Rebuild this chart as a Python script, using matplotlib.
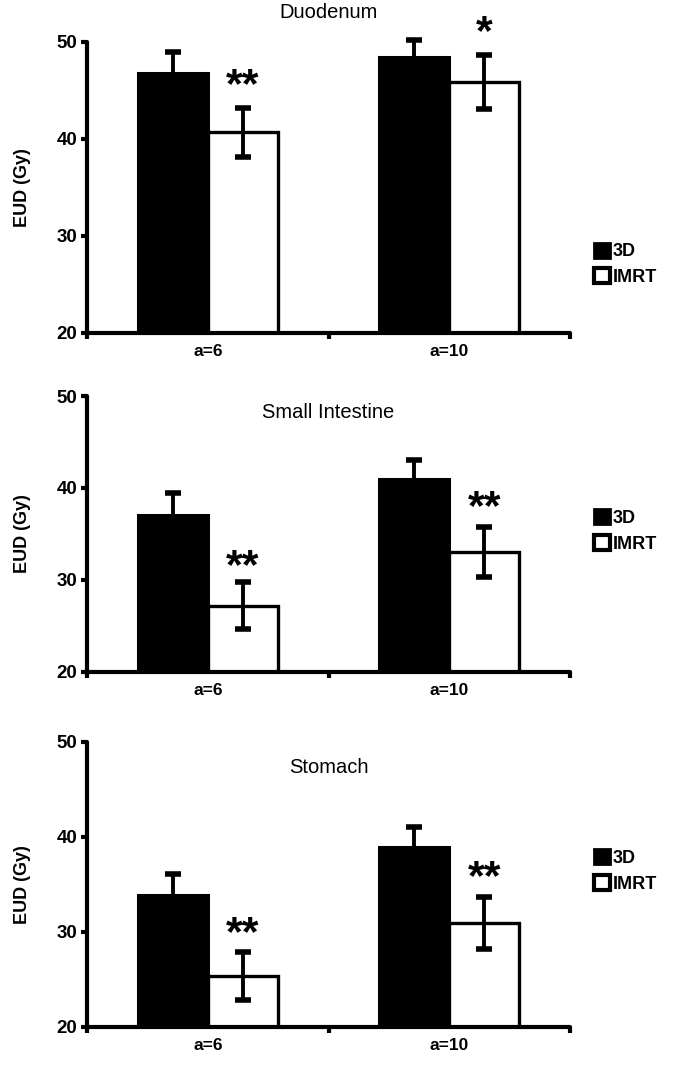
import numpy as np
from matplotlib import pyplot as plt
from matplotlib.patches import Patch

# EUD values
groups = ['a=6', 'a=10']
organs = ['Duodenum', 'Small Intestine', 'Stomach']

eud_3d = [[46.8, 48.4], [37.0, 41.0], [33.9, 38.9]]
err_3d = [[2.1, 1.8], [2.4, 2.0], [2.2, 2.1]]
eud_imrt = [[40.65, 45.85], [27.2, 33.05], [25.35, 30.95]]
err_imrt = [[2.55, 2.75], [2.6, 2.75], [2.55, 2.75]]
stars = [['**', '*'], ['**', '**'], ['**', '**']]
star_y = [[45.4, 50.9], [31.4, 37.8], [29.7, 35.6]]

yticks = [20, 30, 40, 50]

# panel placement (figure fractions) and where the title / legend sit
panel_pos = [[0.1285, 0.6879, 0.7135, 0.2730],
             [0.1285, 0.3699, 0.7135, 0.2586],
             [0.1285, 0.0369, 0.7135, 0.2673]]
title_y = [1.10, 0.942, 0.911]
legend_y = [0.235, 0.51, 0.546]

plt.rcParams['font.family'] = ['Liberation Sans', 'DejaVu Sans']

fig = plt.figure(figsize=(6.77, 10.66), dpi=100)
x = np.arange(len(groups))
w = 0.29

for i in range(3):
    ax = fig.add_axes(panel_pos[i])
    ax.bar(x - w/2, np.array(eud_3d[i]) - 20, w, bottom=20, color='black',
           edgecolor='black', linewidth=2.2, zorder=2)
    ax.bar(x + w/2, np.array(eud_imrt[i]) - 20, w, bottom=20, color='white',
           edgecolor='black', linewidth=2.4, zorder=2)
    eb1 = ax.errorbar(x - w/2, eud_3d[i], yerr=err_3d[i], fmt='none', ecolor='black',
                      elinewidth=2.8, capsize=6, capthick=4, zorder=1)
    eb2 = ax.errorbar(x + w/2, eud_imrt[i], yerr=err_imrt[i], fmt='none', ecolor='black',
                      elinewidth=2.8, capsize=6, capthick=4, zorder=3)
    for eb in (eb1, eb2):
        for part in eb.lines[1] + eb.lines[2]:
            part.set_clip_on(False)
    for j in range(2):
        ax.text(x[j] + w/2, star_y[i][j], stars[i][j], ha='center', va='center',
                fontsize=31, fontweight='bold')

    ax.set_xlim(-0.5, 1.5)
    ax.set_ylim(20, 50)
    ax.spines['top'].set_visible(False)
    ax.spines['right'].set_visible(False)
    ax.spines['left'].set_linewidth(3)
    ax.spines['bottom'].set_linewidth(3)
    ax.spines['left'].set_capstyle('round')
    ax.spines['bottom'].set_capstyle('round')

    ax.set_yticks(yticks)
    ax.set_yticklabels([str(t) for t in yticks], fontsize=13.5, fontweight='bold')
    ax.tick_params(axis='y', length=4, width=3, pad=3)
    ax.set_xticks([-0.5, 0.5, 1.5])
    ax.set_xticklabels([])
    ax.tick_params(axis='x', which='major', direction='out', length=4, width=3)
    ax.set_xticks(x, minor=True)
    ax.set_xticklabels(groups, minor=True, fontsize=12.5, fontweight='bold')
    ax.tick_params(axis='x', which='minor', length=0, pad=8)

    ax.set_ylabel('EUD (Gy)', fontsize=13, fontweight='bold')
    ax.yaxis.set_label_coords(-0.115, 0.5)
    ax.text(0.5, title_y[i], organs[i], transform=ax.transAxes, ha='center',
            va='center', fontsize=14.5)

    handles = [Patch(facecolor='black', edgecolor='black', linewidth=2),
               Patch(facecolor='white', edgecolor='black', linewidth=3)]
    ax.legend(handles, ['3D', 'IMRT'], loc='center left',
              bbox_to_anchor=(1.015, legend_y[i]), frameon=False,
              handlelength=0.9, handleheight=0.9, handletextpad=0.15,
              labelspacing=0.45, prop={'size': 13, 'weight': 'bold'})

plt.savefig('out.png', dpi=100)
